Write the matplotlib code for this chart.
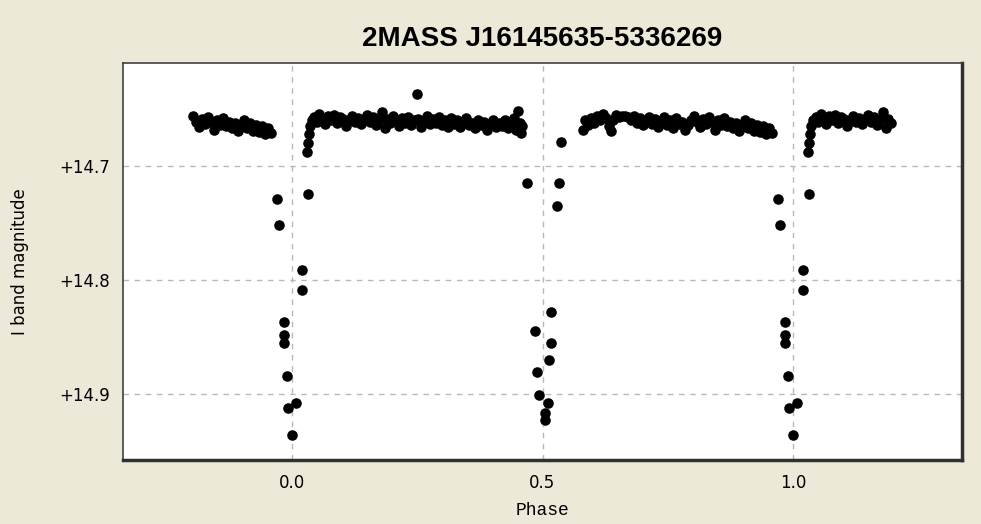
import numpy as np
import matplotlib
matplotlib.use("Agg")
import matplotlib.pyplot as plt
from matplotlib.ticker import FixedLocator, FuncFormatter

# one folded cycle of the light curve, phase in [0, 1)
out_phase = [
  0.030, 0.032, 0.034, 0.036, 0.040, 0.045, 0.050, 0.055, 0.060, 0.066,
  0.072, 0.078, 0.084, 0.090, 0.096, 0.102, 0.108, 0.114, 0.120, 0.126,
  0.132, 0.138, 0.144, 0.150, 0.156, 0.162, 0.168, 0.174, 0.180, 0.185,
  0.190, 0.196, 0.202, 0.208, 0.214, 0.220, 0.226, 0.232, 0.238, 0.244,
  0.250, 0.252, 0.258, 0.264, 0.270, 0.276, 0.282, 0.288, 0.294, 0.300,
  0.306, 0.312, 0.318, 0.324, 0.330, 0.336, 0.342, 0.348, 0.354, 0.360,
  0.366, 0.372, 0.378, 0.384, 0.390, 0.396, 0.402, 0.408, 0.414, 0.420,
  0.426, 0.432, 0.438, 0.444, 0.448, 0.452, 0.455, 0.458, 0.460,
  0.580, 0.584, 0.590, 0.596, 0.602, 0.608, 0.614, 0.620, 0.626, 0.632,
  0.636, 0.640, 0.646, 0.652, 0.658, 0.664, 0.670, 0.676, 0.682, 0.688,
  0.694, 0.700, 0.706, 0.712, 0.718, 0.724, 0.730, 0.736, 0.742, 0.748,
  0.754, 0.760, 0.766, 0.772, 0.778, 0.784, 0.790, 0.796, 0.802, 0.808,
  0.814, 0.820, 0.826, 0.832, 0.838, 0.844, 0.850, 0.856, 0.862, 0.868,
  0.874, 0.880, 0.886, 0.892, 0.898, 0.904, 0.910, 0.916, 0.922, 0.928,
  0.934, 0.940, 0.946, 0.952, 0.958,
]
out_mag = [
  14.688, 14.680, 14.672, 14.665, 14.660, 14.657, 14.661, 14.654, 14.658, 14.663,
  14.656, 14.660, 14.655, 14.662, 14.657, 14.659, 14.665, 14.660, 14.656, 14.661,
  14.658, 14.663, 14.659, 14.655, 14.661, 14.657, 14.664, 14.660, 14.653, 14.667,
  14.659, 14.662, 14.656, 14.660, 14.665, 14.658, 14.662, 14.657, 14.664, 14.660,
  14.637, 14.659, 14.666, 14.661, 14.656, 14.663, 14.659, 14.662, 14.657, 14.664,
  14.660, 14.666, 14.658, 14.663, 14.660, 14.666, 14.661, 14.658, 14.664, 14.662,
  14.667, 14.660, 14.664, 14.661, 14.668, 14.663, 14.660, 14.666, 14.662, 14.665,
  14.660, 14.667, 14.663, 14.658, 14.668, 14.652, 14.662, 14.671, 14.665,
  14.668, 14.660, 14.664, 14.658, 14.662, 14.656, 14.660, 14.654, 14.658, 14.665,
  14.669, 14.660, 14.655, 14.657, 14.656, 14.656, 14.657, 14.660, 14.656, 14.662,
  14.658, 14.664, 14.660, 14.657, 14.663, 14.659, 14.666, 14.661, 14.657, 14.664,
  14.660, 14.667, 14.658, 14.663, 14.661, 14.668, 14.664, 14.660, 14.656, 14.661,
  14.666, 14.659, 14.663, 14.657, 14.661, 14.668, 14.660, 14.664, 14.658, 14.665,
  14.661, 14.667, 14.662, 14.669, 14.664, 14.660, 14.667, 14.662, 14.669, 14.664,
  14.670, 14.665, 14.672, 14.667, 14.671,
]

# primary eclipse (around phase 0)
pri_phase = [0.9695, 0.974, 0.9846, 0.984, 0.984, 0.9894, 0.9926,
             0.0006, 0.008, 0.0206, 0.0206, 0.032]
pri_mag = [14.729, 14.752, 14.837, 14.848, 14.855, 14.884, 14.912,
           14.936, 14.908, 14.791, 14.809, 14.725]

# secondary eclipse (around phase 0.5)
sec_phase = [0.4697, 0.485, 0.490, 0.493, 0.505, 0.505, 0.510,
             0.513, 0.517, 0.517, 0.528, 0.533, 0.537]
sec_mag = [14.715, 14.845, 14.881, 14.901, 14.917, 14.923, 14.908,
           14.870, 14.828, 14.855, 14.735, 14.715, 14.679]

x_ticks = [0.0, 0.5, 1.0]
y_ticks = [14.7, 14.8, 14.9]

phase = np.array(out_phase + pri_phase + sec_phase)
mag = np.array(out_mag + pri_mag + sec_mag)

# show -0.2 .. 1.2, repeating the cycle
xs, ys = [], []
for shift in (-1, 0, 1):
  p = phase + shift
  keep = (p >= -0.2) & (p <= 1.2)
  xs.append(p[keep])
  ys.append(mag[keep])
xs = np.concatenate(xs)
ys = np.concatenate(ys)

bg = '#ece9d8'
fig = plt.figure(figsize=(9.81, 5.24), dpi=100, facecolor=bg)
ax = fig.add_axes([123/981, 64/524, 839/981, 397/524])
ax.set_facecolor('white')

ax.grid(True, color='#b8b8b8', linestyle=(0, (4, 4)), linewidth=1)
ax.set_axisbelow(True)
ax.plot(xs, ys, 'o', color='black', markersize=7.6, markeredgewidth=0)

ax.set_xlim(-0.337, 1.337)
ax.set_ylim(14.958, 14.6096)

ax.xaxis.set_major_locator(FixedLocator(x_ticks))
ax.yaxis.set_major_locator(FixedLocator(y_ticks))
ax.xaxis.set_major_formatter(FuncFormatter(lambda v, _: f"{v:.1f}"))
ax.yaxis.set_major_formatter(FuncFormatter(lambda v, _: f"+{v:.1f}"))
ax.tick_params(length=0, labelsize=12)
ax.tick_params(axis='x', pad=10)
ax.tick_params(axis='y', pad=9)

for side in ('top', 'left'):
  ax.spines[side].set_linewidth(1.2)
  ax.spines[side].set_color('#404040')
for side in ('right', 'bottom'):
  ax.spines[side].set_linewidth(2.5)
  ax.spines[side].set_color('#303030')

ax.set_title('2MASS J16145635-5336269', fontsize=20, fontweight='bold',
             family='Liberation Sans', pad=12)
ax.set_xlabel('Phase', family='Liberation Mono', fontsize=13, labelpad=7)
ax.set_ylabel('I band magnitude', fontsize=12, labelpad=22)

fig.savefig('out.png', dpi=100, facecolor=bg)
